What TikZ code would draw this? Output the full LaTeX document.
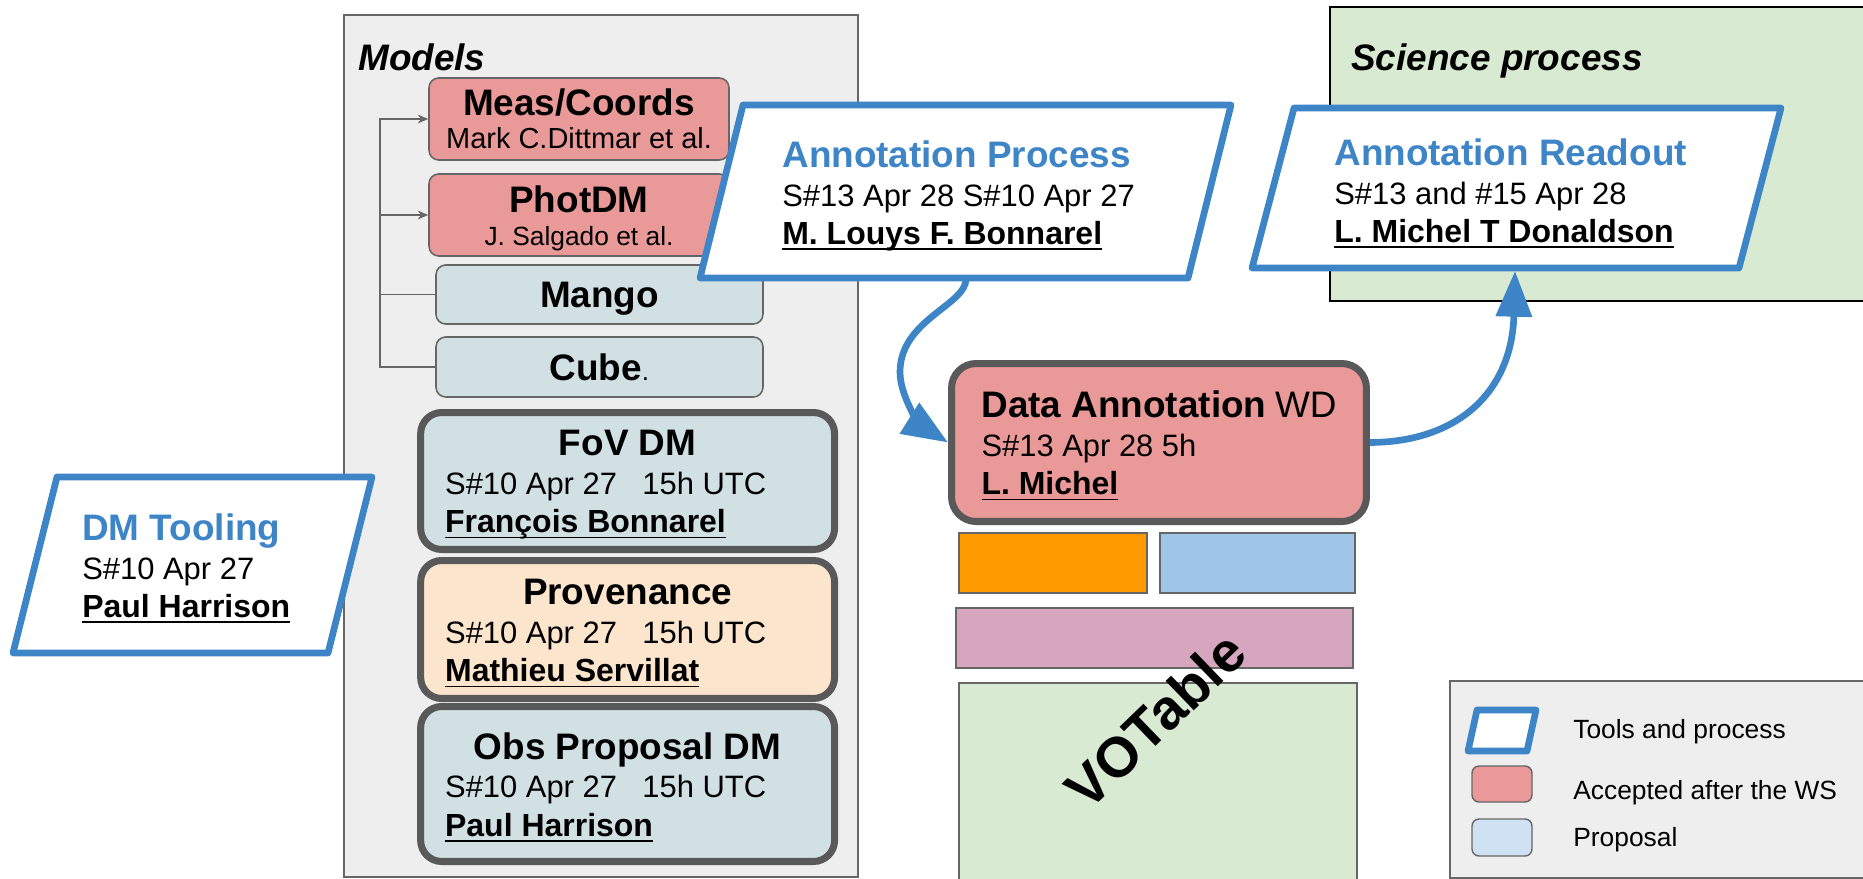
\documentclass[tikz,border=0pt]{standalone}
\usepackage{fontspec}
\setmainfont{Liberation Sans}
\usetikzlibrary{arrows.meta}

\definecolor{panelgray}{HTML}{EEEEEE}
\definecolor{edgegray}{HTML}{666666}
\definecolor{wdgray}{HTML}{595959}
\definecolor{acceptred}{HTML}{EA9999}
\definecolor{propteal}{HTML}{D0E0E3}
\definecolor{provpeach}{HTML}{FCE5CD}
\definecolor{toolblue}{HTML}{3D85C6}
\definecolor{voorange}{HTML}{FF9900}
\definecolor{volblue}{HTML}{9FC5E8}
\definecolor{vopurple}{HTML}{D5A6BD}
\definecolor{vogreen}{HTML}{D9EAD3}
\definecolor{legblue}{HTML}{CFE2F3}

\newcommand\ttl{\fontsize{21}{25}\selectfont\bfseries}
\newcommand\tstrut{\rule{0pt}{19pt}}
\newcommand\gap{\hspace{14.5pt}}
\newsavebox\whobox
\newcommand\who[1]{\sbox\whobox{\fontsize{18.2}{21.9}\selectfont\bfseries #1}\rlap{\rule[-3.2pt]{\wd\whobox}{1.1pt}}\usebox\whobox}

\begin{document}
\begin{tikzpicture}[x=0.02cm, y=-0.02cm,
  txt/.style={inner sep=0pt, align=left, font=\fontsize{17.6}{21.9}\selectfont},
  heading/.style={anchor=base west, inner sep=0pt, font=\fontsize{21}{25}\selectfont\bfseries\itshape},
  legtext/.style={anchor=base west, inner sep=0pt, font=\fontsize{15}{18}\selectfont},
  thinbox/.style={draw=edgegray, line width=0.9pt, rounded corners=5.5pt, inner sep=0pt, align=center, font=\fontsize{15}{18.8}\selectfont},
  wdbox/.style={draw=wdgray, line width=4pt, rounded corners=12pt, inner sep=0pt, align=left, font=\fontsize{17.6}{21.9}\selectfont},
  toolshape/.style={draw=toolblue, line width=3.8pt, fill=white, line join=round},
  flow/.style={draw=toolblue, line width=3.8pt, -{Triangle[length=26pt,width=20pt]}},
  treeline/.style={draw=edgegray, line width=0.9pt},
  treearrow/.style={treeline, -{Stealth[length=6pt,width=5pt]}},
  vobox/.style={draw=edgegray, line width=0.8pt}]

\useasboundingbox (0,0) rectangle (1863,879);

% models panel
\draw[fill=panelgray, draw=edgegray, line width=0.8pt] (344,15) rectangle (858,877);
\node[heading] (models) at (358,70) {Models};

\node[thinbox, fill=acceptred, minimum width=6cm, minimum height=1.64cm] (meas) at (579,119) {{\ttl Meas/Coords}\\{\fontsize{16.5}{18.8}\selectfont Mark C.Dittmar et al.}};
\node[thinbox, fill=acceptred, minimum width=6cm, minimum height=1.64cm] (phot) at (579,215) {{\ttl\tstrut PhotDM}\\J. Salgado et al.};
\node[thinbox, fill=propteal, minimum width=6.54cm, minimum height=1.18cm] (mango) at (599.5,294.5) {{\ttl\tstrut Mango}};
\node[thinbox, fill=propteal, minimum width=6.54cm, minimum height=1.2cm] (cube) at (599.5,367) {{\ttl Cube}.};

\coordinate (spine) at (380,367);
\draw[treeline] (cube.west) -- (spine) |- (mango.west);
\draw[treearrow] (spine) |- (phot.west);
\draw[treearrow] (spine) |- (meas.west);

% working drafts
\node[wdbox, fill=propteal, minimum width=8.28cm, minimum height=2.74cm] (fov) at (627.6,481)
  {\makebox[7.3cm]{\ttl\tstrut FoV DM}\\S\#10 Apr 27\gap 15h UTC\\\who{François Bonnarel}};
\node[wdbox, fill=provpeach, minimum width=8.28cm, minimum height=2.76cm] (prov) at (627.6,629.5)
  {\makebox[7.3cm]{\ttl\tstrut Provenance}\\S\#10 Apr 27\gap 15h UTC\\\who{Mathieu Servillat}};
\node[wdbox, fill=propteal, minimum width=8.28cm, minimum height=3.1cm] (obs) at (627.6,784)
  {\makebox[7.3cm]{\ttl\tstrut Obs Proposal DM}\\S\#10 Apr 27\gap 15h UTC\\\who{Paul Harrison}};

% data annotation on top of VOTable
\node[wdbox, rounded corners=14pt, fill=acceptred, minimum width=8.3cm, minimum height=3.16cm] (dataann) at (1159,442.5)
  {{\ttl\tstrut Data Annotation} {\fontsize{21}{25}\selectfont WD}\\S\#13 Apr 28 5h\\\who{L. Michel}};

\draw[vobox, fill=voorange] (959,533) rectangle (1147,593);
\draw[vobox, fill=volblue] (1160,533) rectangle (1355,593);
\draw[vobox, fill=vopurple] (956,608) rectangle (1353,668);
\draw[vobox, fill=vogreen] (959,683) rectangle (1357,890);
\node[rotate=44, inner sep=0pt, font=\fontsize{32}{38}\selectfont\bfseries] (votable) at (1155,720) {VOTable};

% science process
\draw[fill=vogreen, draw=black, line width=0.8pt] (1330,7) rectangle (1880,301);
\node[heading] (science) at (1351,70) {Science process};

% tools and process
\draw[toolshape] (57,477) -- (372,477) -- (328,653) -- (13,653) -- cycle;
\node[txt, anchor=north west] (tooling) at (82,513.6)
  {{\color{toolblue}\ttl DM Tooling}\\S\#10 Apr 27\\\who{Paul Harrison}};

\draw[toolshape] (743,105) -- (1231,105) -- (1188,278) -- (700,278) -- cycle;
\node[txt, anchor=north west] (annproc) at (782,140.6)
  {{\color{toolblue}\ttl Annotation Process}\\S\#13 Apr 28 S\#10 Apr 27\\\who{M. Louys F. Bonnarel}};

\draw[toolshape] (1294,108) -- (1781,108) -- (1739,268) -- (1252,268) -- cycle;
\node[txt, anchor=north west] (readout) at (1334,138.6)
  {{\color{toolblue}\ttl Annotation Readout}\\S\#13 and \#15 Apr 28\\\who{L. Michel T Donaldson}};

\coordinate (procbot) at (966,279);
\coordinate (readbot) at (1515,271);
\draw[flow] (procbot) .. controls (966,305) and (900,320) .. (900,372) .. controls (900,400) and (925,428) .. (dataann.west);
\draw[flow] (dataann.east) .. controls (1460,442) and (1512,390) .. (readbot);

% legend
\draw[fill=panelgray, draw=edgegray, line width=0.8pt] (1450,681) rectangle (1880,878);
\draw[toolshape] (1477,710) -- (1536,710) -- (1527,751) -- (1468,751) -- cycle;
\draw[vobox, rounded corners=4pt, fill=acceptred] (1472,766) rectangle (1532,802);
\draw[vobox, rounded corners=4pt, fill=legblue] (1472,819) rectangle (1532,856);
\node[legtext] (legtool) at (1573,738) {Tools and process};
\node[legtext] (legacc) at (1573,799) {Accepted after the WS};
\node[legtext] (legprop) at (1573,846) {Proposal};
\end{tikzpicture}
\end{document}
